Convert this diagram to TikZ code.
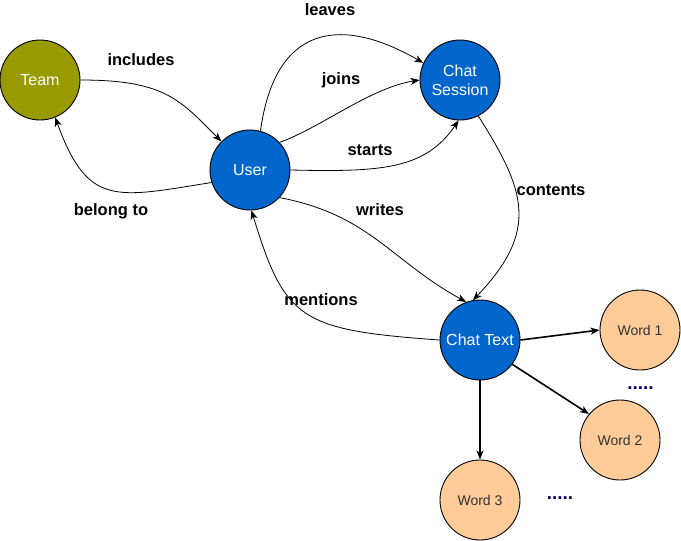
\documentclass[tikz,border=0pt]{standalone}
\usepackage{fontspec}
\setmainfont{Liberation Sans}
\usetikzlibrary{arrows.meta}
\definecolor{olivefill}{HTML}{999900}
\definecolor{bluefill}{HTML}{0066CC}
\definecolor{peach}{HTML}{FFCC99}
\definecolor{wordtext}{HTML}{333333}
\definecolor{navy}{HTML}{000066}
\tikzset{
  base/.style={circle,draw=black,line width=0.9pt,minimum size=80pt,inner sep=0pt,align=center},
  teamnode/.style={base,fill=olivefill,text=white,font=\fontsize{16}{19}\selectfont},
  bluenode/.style={base,fill=bluefill,text=white,font=\fontsize{16}{19}\selectfont},
  wordnode/.style={base,fill=peach,text=wordtext,font=\fontsize{14}{16}\selectfont},
  lbl/.style={font=\bfseries\fontsize{16.5}{19}\selectfont,text=black,inner sep=0pt},
  dots/.style={font=\bfseries\fontsize{19}{21}\selectfont,text=navy,inner sep=0pt,anchor=base},
  conn/.style={line width=0.8pt,-{Stealth[length=9pt,width=7pt,inset=2.5pt]}},
  thick conn/.style={line width=1.6pt,-{Stealth[length=9pt,width=7pt,inset=2.5pt]}}
}
\begin{document}
\begin{tikzpicture}[x=1pt,y=-1pt]
\useasboundingbox (0,0) rectangle (681,541);
\node[teamnode] (team) at (40,80) {Team};
\node[bluenode] (user) at (250,170) {User};
\node[bluenode] (session) at (460,80) {Chat\\Session};
\node[bluenode] (text) at (480,340) {Chat Text};
\node[wordnode] (w1) at (640,330) {Word 1};
\node[wordnode] (w2) at (620,440) {Word 2};
\node[wordnode] (w3) at (480,500) {Word 3};
\node[dots] (d1) at (640.5,389) {.....};
\node[dots] (d2) at (560,499) {.....};

\draw[conn] (team.east) .. controls (165,80) and (180,100) .. (user.135);
\draw[conn] (user.198) .. controls (115,198) and (88,207) .. (team.292);
\draw[conn] (user.75) .. controls (275,25) and (340,15) .. (session.155);
\draw[conn] (user.43) .. controls (320,128) and (370,88) .. (session.west);
\draw[conn] (user.east) .. controls (380,172) and (425,170) .. (session.268);
\draw[conn] (session.297) .. controls (525,190) and (540,230) .. (text.100);
\draw[conn] (user.317) .. controls (370,215) and (390,260) .. (text.110);
\draw[conn] (text.west) .. controls (300,330) and (285,320) .. (user.272);
\draw[thick conn] (text.east) -- (w1.west);
\draw[thick conn] (text.-37) -- (w2.140);
\draw[thick conn] (text.south) -- (w3.north);

\node[lbl] (l1) at (141,60) {includes};
\node[lbl] (l2) at (111,211) {belong to};
\node[lbl] (l3) at (330,10) {leaves};
\node[lbl] (l4) at (341,80) {joins};
\node[lbl] (l5) at (370,150) {starts};
\node[lbl] (l6) at (551,190) {contents};
\node[lbl] (l7) at (380,210) {writes};
\node[lbl] (l8) at (321,300) {mentions};
\end{tikzpicture}
\end{document}
